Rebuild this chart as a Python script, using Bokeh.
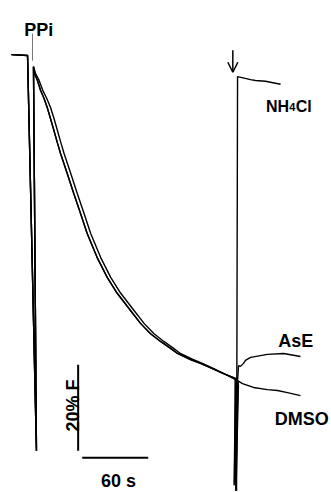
from bokeh.plotting import figure
from bokeh.models import Range1d, Arrow, OpenHead
from bokeh.core.properties import value
from bokeh.embed import file_html
from bokeh.resources import INLINE

# ---- data (time in s relative to PPi addition, fluorescence in % of baseline) ----
base_t = [-19.1, -4.5]
base_F = [100.2, 100.0]
ppi_dip_t = [-4.5, 3.6, 0.9]
ppi_dip_F = [100.0, 8.1, 97.4]

decayA_t = [0.9, 1.8, 4.5, 7.3, 10.5, 13.4, 16.4, 19.4, 22.5, 25.5, 31.5, 37.5, 43.6, 49.7,
            58.8, 67.9, 77.0, 89.1, 98.2, 107.3, 116.4, 125.5, 131.8, 143.6, 152.7, 163.6, 173.6, 184.5]
decayA_F = [97.4, 95.8, 94.2, 91.9, 90.0, 87.9, 85.3, 82.6, 79.8, 77.2, 72.6, 67.9, 63.3, 58.6,
            53.0, 48.4, 44.7, 40.7, 37.7, 35.3, 33.5, 31.9, 30.7, 29.3, 28.4, 27.2, 26.0, 24.9]

decayB_t = [0.9, 2.8, 6.0, 9.3, 13.0, 16.4, 19.6, 22.6, 25.7, 28.7, 34.7, 40.7, 46.8, 52.9,
            62.0, 71.1, 80.2, 92.3, 101.4, 110.5, 119.4, 128.3, 134.4, 145.8, 154.5, 164.8, 174.2, 184.5]
decayB_F = [97.4, 95.8, 94.2, 91.9, 90.0, 87.9, 85.3, 82.6, 79.8, 77.2, 72.6, 67.9, 63.3, 58.6,
            53.0, 48.4, 44.7, 40.7, 37.7, 35.3, 33.5, 31.9, 30.7, 29.3, 28.4, 27.2, 26.0, 24.6]

nh4_add_t = [185.5, 186.4]
nh4_add_F = [-1.2, 95.1]
nh4_tail_t = [198.2, 202.7, 211.8, 225.5]
nh4_tail_F = [94.4, 94.2, 94.0, 93.3]

ase_add_t = [183.6, 186.0, 184.2, 186.8, 184.8, 186.4]
ase_add_F = [0.5, 24.5, 1.5, 24.0, -1.2, 24.4]
ase_tail_t = [187.3, 189.1, 191.8, 193.6, 198.2, 213.6, 228.2, 243.6]
ase_tail_F = [27.9, 27.7, 28.4, 29.1, 29.8, 30.5, 30.7, 30.0]

dmso_add_t = [183.3, 186.9, 183.9, 187.2, 185.0, 186.4]
dmso_add_F = [0.0, 24.3, 1.0, 23.5, -1.2, 24.4]
dmso_tail_t = [190.9, 200.9, 213.6, 222.7, 231.8, 243.6]
dmso_tail_F = [23.7, 22.8, 22.3, 22.1, 21.6, 20.9]

# markers / scale bars
ppi_mark_t = [0.0, 0.0]
ppi_mark_F = [105.1, 98.8]
arrow_t = 182.1
arrow_F = [101.2, 96.1]
sbar_v_t = [41.5, 41.5]
sbar_v_F = [28.1, 8.1]      # 20 % F
sbar_h_t = [45.2, 105.2]    # 60 s
sbar_h_F = [6.44, 6.44]

# ---- figure ----
p = figure(width=331, height=492, output_backend="svg", toolbar_location=None,
           x_axis_type=None, y_axis_type=None, min_border=0,
           x_range=Range1d(-29.09, 271.8), y_range=Range1d(-1.63, 112.79))
p.grid.visible = False
p.outline_line_color = None
p.background_fill_color = "white"
p.border_fill_color = "white"

lw = 1.4
nh4_t = base_t + ppi_dip_t + decayA_t + nh4_add_t + nh4_tail_t
nh4_F = base_F + ppi_dip_F + decayA_F + nh4_add_F + nh4_tail_F
ase_t = base_t + ppi_dip_t + decayB_t + ase_add_t + ase_tail_t
ase_F = base_F + ppi_dip_F + decayB_F + ase_add_F + ase_tail_F
dmso_t = base_t + ppi_dip_t + decayA_t + dmso_add_t + dmso_tail_t
dmso_F = base_F + ppi_dip_F + decayA_F + dmso_add_F + dmso_tail_F

p.line(nh4_t, nh4_F, line_color="black", line_width=lw)
p.line(ase_t, ase_F, line_color="black", line_width=lw)
p.line(dmso_t, dmso_F, line_color="black", line_width=lw)

p.line(ppi_mark_t, ppi_mark_F, line_color="#777777", line_width=1)
p.add_layout(Arrow(end=OpenHead(size=10, line_width=1.5, line_color="black"),
                   x_start=arrow_t, y_start=arrow_F[0], x_end=arrow_t, y_end=arrow_F[1],
                   line_width=1.5, line_color="black"))

p.line(sbar_v_t, sbar_v_F, line_color="black", line_width=2)
p.line(sbar_h_t, sbar_h_F, line_color="black", line_width=2)

font = value("Liberation Sans")
def label(x, y, s, size, align="left", angle=0):
    p.text([x], [y], text=[s], text_font=font, text_font_size=size, text_font_style="bold",
           text_align=align, text_baseline="alphabetic", angle=angle, text_color="black")

label(5.7, 106.0, "PPi", "18px", "center")
label(212.3, 88.1, "NH", "16px")
label(233.5, 88.1, "4", "11px")
label(239.3, 88.1, "Cl", "16px")
label(223.4, 33.7, "AsE", "18px")
label(220.3, 15.5, "DMSO", "18px")
label(78.2, 1.0, "60 s", "18px", "center")
label(36.4, 18.6, "20% F", "18px", "center", angle=1.5708)

open("out.html", "w").write(file_html(p, INLINE))
